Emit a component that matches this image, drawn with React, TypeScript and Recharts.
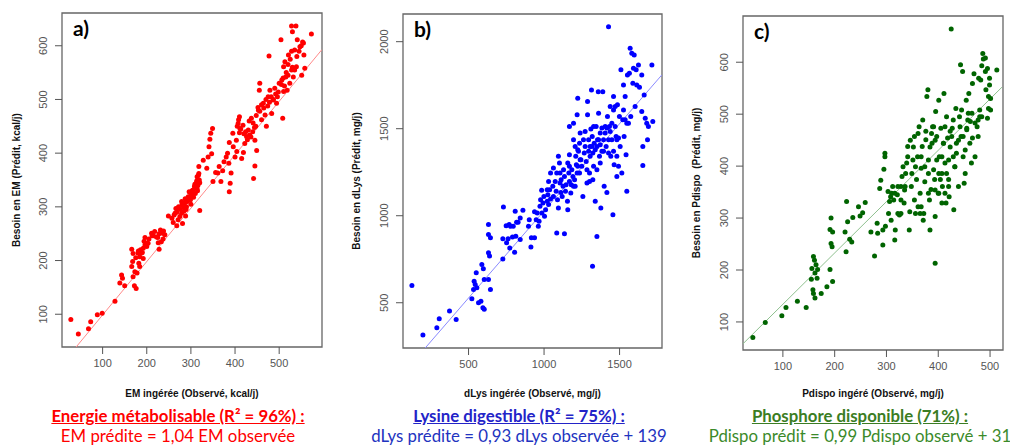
import {
  ReferenceArea,
  ReferenceLine,
  Scatter,
  ScatterChart,
  XAxis,
  YAxis,
} from "recharts";

// a) EM ingérée (x) vs besoin prédit (y), kcal/j
const emPoints: [number, number][] = [
  [28, 90], [45, 63], [68, 73], [73, 86], [88, 99], [99, 102], [128, 124],
  [139, 158], [143, 173], [145, 167], [150, 153], [166, 189], [168, 198], [169, 213], [166, 221],
  [169, 170], [172, 153], [176, 148], [173, 179], [178, 177], [182, 195], [184, 207], [188, 214],
  [192, 223], [196, 229], [196, 243], [200, 226], [203, 232], [192, 204], [184, 189], [181, 218],
  [175, 205], [180, 214], [186, 220], [190, 215], [194, 236], [198, 232],
  [211, 251], [218, 254], [222, 244], [226, 233], [228, 221], [231, 257], [236, 251], [237, 240],
  [241, 248], [215, 246], [205, 240], [212, 246], [225, 243], [233, 235], [238, 255], [228, 250],
  [249, 283], [257, 279], [260, 271], [264, 288], [266, 297], [271, 276], [275, 282], [279, 288],
  [281, 269], [283, 300], [286, 307], [289, 295], [290, 313], [294, 319], [296, 328], [299, 313],
  [302, 322], [304, 331], [308, 338], [310, 325], [312, 344], [314, 356], [317, 359], [319, 350],
  [314, 334], [318, 375], [320, 293], [288, 283], [268, 265], [279, 310],
  [262, 285], [268, 290], [272, 300], [276, 295], [280, 305], [284, 292], [287, 315], [292, 310],
  [296, 318], [300, 325], [303, 330], [306, 318], [309, 342], [313, 348], [316, 340], [318, 362],
  [320, 345], [315, 330], [300, 305], [290, 300],
  [328, 387], [336, 372], [339, 393], [341, 412], [343, 426], [345, 437], [349, 446], [347, 399],
  [350, 347], [356, 364], [361, 363], [364, 375], [368, 347], [372, 367], [375, 384], [380, 393],
  [383, 400], [386, 381], [387, 328], [389, 344], [391, 363], [396, 412], [400, 393], [395, 437],
  [403, 424], [404, 403], [407, 455], [411, 446], [410, 468], [415, 390], [419, 401], [387, 420],
  [405, 450], [408, 462], [410, 438], [413, 445], [418, 452], [420, 436], [424, 440], [428, 425],
  [432, 460], [436, 430], [440, 440], [444, 448], [448, 470], [452, 485], [456, 478], [460, 490],
  [422, 418], [426, 431], [430, 443], [433, 434], [437, 465], [441, 456], [445, 424], [447, 450],
  [442, 353], [445, 376], [449, 405], [453, 480], [455, 517], [456, 530], [460, 462], [464, 493],
  [468, 471], [471, 450], [475, 505], [479, 517], [483, 474], [477, 581], [486, 499], [490, 521],
  [494, 493], [498, 514], [508, 465], [506, 536], [510, 561], [504, 611], [513, 570], [515, 542],
  [518, 517], [521, 583], [524, 530], [528, 555], [532, 542], [535, 592], [539, 561], [541, 611],
  [530, 626], [528, 637], [538, 637], [547, 598], [553, 607], [556, 583], [558, 558], [551, 545],
  [573, 622], [465, 484], [470, 500], [474, 488], [478, 495], [482, 505], [487, 500], [492, 510],
  [496, 505], [500, 530], [505, 528], [509, 540], [512, 525], [516, 550], [520, 565], [525, 575],
  [530, 560], [535, 555], [540, 580], [545, 590], [550, 600], [555, 605], [528, 590], [520, 545],
  [510, 515],
];

// b) dLys ingérée (x) vs besoin prédit (y), mg/j
const dlysPoints: [number, number][] = [
  [125, 599], [198, 315], [290, 357], [306, 408], [374, 452], [418, 404],
  [522, 523], [533, 576], [544, 605], [551, 672], [537, 624], [555, 586], [566, 500], [582, 509],
  [595, 471], [604, 462], [588, 720], [598, 695], [604, 634], [632, 634], [645, 576], [632, 787],
  [639, 768], [632, 892], [645, 873], [632, 949],
  [727, 752], [727, 867], [731, 1050], [749, 943], [752, 844], [762, 867], [773, 815], [769, 949],
  [777, 939], [791, 878], [796, 939], [805, 790], [809, 1025], [813, 882], [818, 962], [828, 962],
  [842, 987], [860, 1031], [842, 863], [897, 939], [913, 821], [902, 977], [916, 873], [937, 873],
  [937, 1023], [948, 977], [962, 939], [967, 968], [986, 1016], [973, 1054], [993, 1073],
  [1003, 997], [1010, 1035], [984, 1146], [1021, 1083], [1025, 1121], [1030, 1064], [1037, 1149],
  [1043, 1096], [1058, 1169], [1062, 1110], [1074, 1197], [1080, 1140], [1084, 1245], [1089, 1092],
  [1095, 1044], [1095, 1341], [1102, 1303], [1106, 1188], [1111, 1133], [1084, 901], [1113, 1207],
  [1120, 1111], [1129, 1264], [1135, 1226], [1135, 897], [1142, 1140], [1146, 1178], [1155, 1083],
  [1157, 1035], [1157, 1303], [1164, 1245], [1168, 1197], [1168, 1350], [1177, 1130], [1184, 1264],
  [1191, 1226], [1195, 1169], [1202, 1207], [1210, 1341], [1214, 1293], [1219, 1245], [1223, 1379],
  [1168, 1513], [1195, 1532], [1219, 1580], [1223, 1675], [1235, 1417], [1239, 1475], [1244, 1322],
  [1250, 1284], [1257, 1111], [1266, 1360], [1272, 1398], [1279, 1312], [1284, 1264], [1288, 1656],
  [1288, 1580], [1295, 1436], [1301, 1197], [1305, 1398], [1310, 1498], [1314, 1723], [1319, 1455],
  [1323, 1360], [1328, 1284], [1332, 1417], [1339, 1083], [1345, 1513], [1350, 1264], [1354, 1436],
  [1359, 1713], [1361, 1589], [1367, 1341], [1372, 1475], [1376, 1044], [1383, 1504], [1389, 1713],
  [1394, 1370], [1398, 1169], [1405, 1513], [1411, 1398], [1416, 1133], [1420, 1570], [1427, 1360],
  [1433, 1513], [1438, 1627], [1442, 1341], [1449, 1436], [1456, 1006], [1460, 1685], [1464, 1293],
  [1471, 1513], [1477, 1455], [1482, 1226], [1486, 1637], [1493, 1284], [1499, 1570], [1504, 1398],
  [1509, 1838], [1515, 1245], [1521, 1551], [1526, 1751], [1530, 1455], [1537, 1685], [1543, 1350],
  [1548, 1140], [1552, 1809], [1559, 1532], [1565, 1818], [1570, 1962], [1574, 1570], [1581, 1933],
  [1588, 1761], [1592, 1847], [1597, 1924], [1603, 1627], [1610, 1838], [1614, 1751], [1625, 1866],
  [1632, 1738], [1647, 1809], [1647, 1599], [1654, 1398], [1654, 1289], [1670, 1560], [1663, 1694],
  [1680, 1532], [1691, 1513], [1685, 1436], [1714, 1866], [1720, 1541], [1427, 2086], [1321, 710],
  [1350, 880],
  [1195, 1436], [1206, 1398], [1228, 1370], [1239, 1322], [1261, 1436], [1272, 1484], [1295, 1370],
  [1305, 1341], [1317, 1398], [1328, 1513], [1339, 1379], [1350, 1398], [1361, 1436], [1372, 1408],
  [1383, 1370], [1394, 1436], [1405, 1475], [1416, 1504], [1427, 1436], [1438, 1484], [1449, 1532],
  [1460, 1608], [1471, 1627], [1482, 1436], [1493, 1446], [1526, 1608], [1537, 1551], [1548, 1532],
  [1062, 1274], [1043, 1245], [1106, 1245], [1126, 1169], [1168, 1284], [1180, 1178], [1206, 1169],
  [1223, 1284], [1235, 1245], [1021, 1149], [999, 1111], [977, 1092], [955, 1016], [1030, 1197],
  [1284, 1188], [1301, 1245], [1323, 1207], [1372, 1303], [1460, 1370], [1482, 1341],
];

// c) Pdispo ingéré (x) vs besoin prédit (y), mg/j
const pdispoPoints: [number, number][] = [
  [42, 70], [66, 99], [98, 112], [106, 128], [128, 140], [145, 128],
  [155, 182], [156, 203], [159, 226], [161, 219], [162, 194], [164, 210], [166, 184], [167, 201],
  [158, 162], [159, 155], [162, 146], [174, 155], [185, 168], [191, 201], [196, 178], [193, 251],
  [195, 245], [191, 278], [193, 300], [196, 273],
  [220, 273], [222, 235], [223, 332], [225, 293], [229, 259], [233, 254], [235, 301], [246, 322],
  [249, 304], [254, 310], [259, 330], [270, 273], [277, 227], [282, 290], [283, 271], [287, 357],
  [289, 373], [293, 248], [295, 394], [297, 425], [297, 418], [293, 277], [298, 284], [303, 351],
  [304, 309], [306, 332], [308, 341], [309, 296], [310, 348], [312, 361], [314, 335], [316, 258],
  [317, 277], [321, 345], [322, 309], [325, 306], [328, 361], [330, 380], [332, 399], [334, 329],
  [335, 354], [337, 386], [339, 406], [341, 438], [344, 277], [345, 312], [348, 361], [349, 386],
  [351, 412], [354, 457], [356, 399], [356, 309], [358, 374], [360, 418], [361, 322], [363, 476],
  [365, 348], [367, 396], [369, 438], [370, 489], [372, 309], [374, 370], [376, 451], [376, 467],
  [378, 534], [380, 547], [381, 412], [383, 335], [384, 277], [386, 355], [388, 444], [389, 476],
  [391, 393], [393, 374], [394, 303], [395, 505], [394, 213], [397, 457], [400, 348], [401, 527],
  [402, 418], [405, 473], [407, 386], [408, 361], [410, 444], [411, 540], [413, 406], [415, 329],
  [416, 495], [418, 454], [420, 374], [421, 341], [423, 467], [425, 664], [427, 473], [429, 418],
  [430, 316], [432, 399], [434, 511], [435, 444], [439, 361], [441, 495], [443, 595], [447, 582],
  [444, 457], [448, 418], [450, 367], [452, 386], [454, 527], [455, 473], [457, 489], [459, 540],
  [461, 444], [462, 486], [464, 406], [466, 454], [466, 559], [469, 578], [471, 418], [475, 476],
  [477, 457], [478, 569], [480, 508], [480, 495], [482, 566], [484, 593], [486, 617], [487, 606],
  [491, 582], [492, 547], [495, 492], [497, 534], [499, 569], [501, 508], [513, 585], [491, 608],
  [495, 588], [499, 556], [501, 530], [497, 511],
  [346, 450], [352, 437], [361, 463], [367, 418], [374, 399], [381, 386], [384, 437], [387, 463],
  [391, 476], [394, 450], [397, 412], [401, 386], [404, 374], [407, 418], [410, 444], [413, 476],
  [416, 386], [420, 412], [423, 437], [426, 457], [429, 489], [432, 399], [435, 425], [439, 450],
  [442, 476], [445, 508], [448, 457], [452, 431], [455, 470], [458, 502], [465, 502], [471, 483],
  [477, 489], [484, 495], [341, 418], [336, 361], [328, 335], [322, 361], [316, 348], [354, 335],
  [367, 322], [381, 348], [394, 354], [407, 329], [420, 361], [413, 348], [401, 348], [371, 296],
  [365, 309], [328, 309],
];

const emLine = [{ x: 40, y: 39 }, { x: 597, y: 593 }];
const dlysLine = [{ x: 213, y: 240 }, { x: 1781, y: 1810 }];
const pdispoLine = [{ x: 23, y: 58 }, { x: 523, y: 552 }];

const emXTicks = [100, 200, 300, 400, 500];
const emYTicks = [100, 200, 300, 400, 500, 600];
const dlysXTicks = [500, 1000, 1500];
const dlysYTicks = [500, 1000, 1500, 2000];
const pdispoXTicks = [100, 200, 300, 400, 500];
const pdispoYTicks = [100, 200, 300, 400, 500, 600];

const toRows = (pts: [number, number][]) => pts.map(([x, y]) => ({ x, y }));

const panels = [
  {
    key: "a",
    left: 0,
    plotLeft: 62,
    plotTop: 13,
    plotBottom: 347,
    plotWidth: 260,
    data: toRows(emPoints),
    xDomain: [8, 597],
    yDomain: [39, 661],
    xTicks: emXTicks,
    yTicks: emYTicks,
    line: emLine,
    dot: "#ff0000",
    lineColor: "#ff8a8a",
    xTitle: "EM ingérée (Observé, kcal/j)",
    yTitle: "Besoin en EM (Prédit, kcal/j)",
    captionCenter: 178,
    caption1: "Energie métabolisable (R² = 96%) :",
    caption2: "EM prédite = 1,04 EM observée",
    c1: "#ff0000",
    c2: "#ff0000",
  },
  {
    key: "b",
    left: 340,
    plotLeft: 63,
    plotTop: 14,
    plotBottom: 348,
    plotWidth: 259,
    data: toRows(dlysPoints),
    xDomain: [66, 1781],
    yDomain: [240, 2159],
    xTicks: dlysXTicks,
    yTicks: dlysYTicks,
    line: dlysLine,
    dot: "#0000ff",
    lineColor: "#8a8aff",
    xTitle: "dLys ingérée (Observé, mg/j)",
    yTitle: "Besoin en dLys (Prédit, mg/j)",
    captionCenter: 179,
    caption1: "Lysine digestible (R² = 75%) :",
    caption2: "dLys prédite = 0,93 dLys observée + 139",
    c1: "#2323c8",
    c2: "#2233c0",
  },
  {
    key: "c",
    left: 680,
    plotLeft: 63,
    plotTop: 16,
    plotBottom: 350,
    plotWidth: 260,
    data: toRows(pdispoPoints),
    xDomain: [23, 525],
    yDomain: [46, 689],
    xTicks: pdispoXTicks,
    yTicks: pdispoYTicks,
    line: pdispoLine,
    dot: "#006400",
    lineColor: "#8fc08f",
    xTitle: "Pdispo ingéré (Observé, mg/j)",
    yTitle: "Besoin en Pdispo  (Prédit, mg/j)",
    captionCenter: 180,
    caption1: "Phosphore disponible (71%) :",
    caption2: "Pdispo prédit = 0,99 Pdispo observé + 31",
    c1: "#3b7d23",
    c2: "#3b8a2a",
  },
];

const W = 340;
const H = 446;
const axisFont = "'Liberation Sans', Arial, sans-serif";

const RotatedTick = (props: any) => {
  const { x, y, payload } = props;
  return (
    <text
      x={x}
      y={y}
      transform={`rotate(-90 ${x} ${y})`}
      textAnchor="middle"
      fill="#555"
      fontSize={11}
      fontFamily={axisFont}
    >
      {payload.value}
    </text>
  );
};

function Panel({ p }: { p: (typeof panels)[number] }) {
  const right = W - p.plotLeft - p.plotWidth;
  const plotH = p.plotBottom - p.plotTop;
  const plotCx = p.plotLeft + p.plotWidth / 2;
  return (
    <div style={{ position: "absolute", left: p.left, top: 0, width: W, height: H }}>
      <ScatterChart
        width={W}
        height={H}
        margin={{ top: p.plotTop, right, bottom: 0, left: 0 }}
      >
        <XAxis
          type="number"
          dataKey="x"
          domain={p.xDomain}
          ticks={p.xTicks}
          allowDataOverflow
          axisLine={false}
          tickSize={7}
          tickMargin={5}
          tickLine={{ stroke: "#555" }}
          height={H - p.plotBottom}
          tick={{ fill: "#555", fontSize: 11, fontFamily: axisFont }}
        />
        <YAxis
          type="number"
          dataKey="y"
          domain={p.yDomain}
          ticks={p.yTicks}
          allowDataOverflow
          axisLine={false}
          width={p.plotLeft}
          tickSize={7}
          tickMargin={8}
          tickLine={{ stroke: "#555" }}
          tick={<RotatedTick />}
        />
        <ReferenceLine
          segment={p.line}
          stroke={p.lineColor}
          strokeWidth={1}
          ifOverflow="hidden"
        />
        <Scatter
          data={p.data}
          isAnimationActive={false}
          shape={(s: any) => <circle cx={s.cx} cy={s.cy} r={2.5} fill={p.dot} />}
        />
        <ReferenceArea
          x1={p.xDomain[0]}
          x2={p.xDomain[1]}
          y1={p.yDomain[0]}
          y2={p.yDomain[1]}
          fill="none"
          stroke="#666"
          strokeWidth={1.3}
          ifOverflow="visible"
        />
      </ScatterChart>
      <div
        style={{
          position: "absolute",
          left: p.plotLeft + 11,
          top: p.plotTop + 2,
          fontFamily: "Lato, sans-serif",
          fontWeight: 700,
          fontSize: 21,
          color: "#000",
        }}
      >
        {p.key})
      </div>
      <div
        style={{
          position: "absolute",
          left: plotCx - 150,
          top: 388,
          width: 300,
          textAlign: "center",
          fontFamily: axisFont,
          fontWeight: 700,
          fontSize: 10,
          color: "#111",
        }}
      >
        {p.xTitle}
      </div>
      <div
        style={{
          position: "absolute",
          left: 17 - 150,
          top: p.plotTop + plotH / 2 - 7,
          width: 300,
          height: 14,
          lineHeight: "14px",
          textAlign: "center",
          transform: "rotate(-90deg)",
          fontFamily: axisFont,
          fontWeight: 700,
          fontSize: 10,
          color: "#111",
          whiteSpace: "pre",
        }}
      >
        {p.yTitle}
      </div>
      <div
        style={{
          position: "absolute",
          left: p.captionCenter - 200,
          top: 405.5,
          width: 400,
          textAlign: "center",
          fontFamily: "Lato, sans-serif",
          fontSize: 16.8,
          lineHeight: "20.5px",
          whiteSpace: "nowrap",
        }}
      >
        <div style={{ color: p.c1, fontWeight: 700, textDecoration: "underline" }}>
          {p.caption1}
        </div>
        <div style={{ color: p.c2 }}>{p.caption2}</div>
      </div>
    </div>
  );
}

export default function App() {
  return (
    <div
      style={{
        position: "absolute",
        left: 0,
        top: 0,
        width: 1010,
        height: 446,
        overflow: "hidden",
        background: "#fff",
      }}
    >
      {panels.map((p) => (
        <Panel key={p.key} p={p} />
      ))}
    </div>
  );
}
